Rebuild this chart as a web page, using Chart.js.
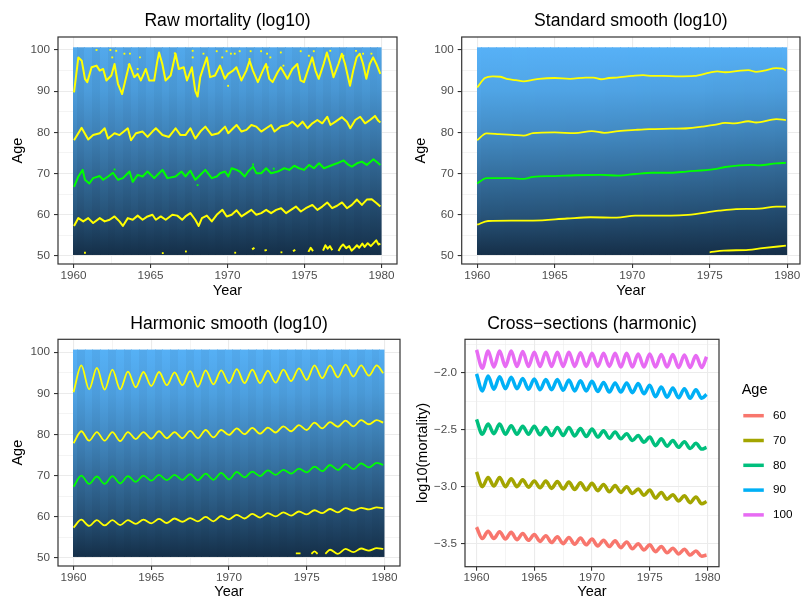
<!DOCTYPE html>
<html>
<head>
<meta charset="utf-8">
<script src="https://cdn.jsdelivr.net/npm/chart.js@4.4.1/dist/chart.umd.min.js"></script>
<style>
  body { margin: 0; background: #fff; width: 802px; height: 601px; overflow: hidden; position: relative; }
  canvas { position: absolute; }
</style>
</head>
<body>
<canvas id="raw" width="401" height="300" style="left:0;top:0"></canvas>
<canvas id="smooth" width="420" height="300" style="left:401px;top:0"></canvas>
<canvas id="harm" width="401" height="301" style="left:0;top:300px"></canvas>
<canvas id="cross" width="401" height="301" style="left:401px;top:300px"></canvas>
<script>
const FONT = '"Liberation Sans", Arial, Helvetica, sans-serif';

// axis ticks (majors get labels, the rest are minor grid lines)
const yearTicks = [1960, 1962.5, 1965, 1967.5, 1970, 1972.5, 1975, 1977.5, 1980];
const ageTicks = [50, 55, 60, 65, 70, 75, 80, 85, 90, 95, 100];
const logTicks = [-3.5, -3.25, -3.0, -2.75, -2.5, -2.25, -2.0, -1.75];

// harmonic fit, sampled at the winter peaks and summer troughs
const harmYears = [1960, 1960.5, 1961, 1961.5, 1962, 1962.5, 1963, 1963.5, 1964, 1964.5,
  1965, 1965.5, 1966, 1966.5, 1967, 1967.5, 1968, 1968.5, 1969, 1969.5,
  1970, 1970.5, 1971, 1971.5, 1972, 1972.5, 1973, 1973.5, 1974, 1974.5,
  1975, 1975.5, 1976, 1976.5, 1977, 1977.5, 1978, 1978.5, 1979, 1979.5, 1979.92];

// cross-sections log10(mortality)
const ageGroups = ['60', '70', '80', '90', '100'];
const ageColors = ['#F8766D', '#A3A500', '#00BF7D', '#00B0F6', '#E76BF3'];
const cs60 = [-3.355,-3.455,-3.39,-3.455,-3.395,-3.46,-3.4,-3.465,-3.41,-3.47,-3.42,-3.48,-3.43,-3.49,-3.44,-3.5,-3.445,-3.505,-3.45,-3.51,-3.46,-3.52,-3.47,-3.525,-3.475,-3.535,-3.485,-3.545,-3.5,-3.555,-3.51,-3.57,-3.525,-3.58,-3.54,-3.59,-3.55,-3.6,-3.565,-3.61,-3.6];
const cs70 = [-2.87,-3.0,-2.92,-2.995,-2.92,-3.0,-2.93,-3.0,-2.94,-3.005,-2.95,-3.01,-2.95,-3.015,-2.955,-3.02,-2.96,-3.025,-2.965,-3.03,-2.97,-3.035,-2.98,-3.045,-2.99,-3.05,-3.0,-3.06,-3.02,-3.075,-3.03,-3.1,-3.05,-3.11,-3.07,-3.125,-3.08,-3.14,-3.09,-3.15,-3.13];
const cs80 = [-2.41,-2.54,-2.45,-2.535,-2.45,-2.54,-2.465,-2.54,-2.47,-2.54,-2.47,-2.545,-2.48,-2.55,-2.48,-2.55,-2.48,-2.555,-2.49,-2.56,-2.495,-2.565,-2.51,-2.575,-2.52,-2.58,-2.535,-2.595,-2.55,-2.61,-2.565,-2.64,-2.58,-2.645,-2.595,-2.655,-2.605,-2.665,-2.62,-2.67,-2.655];
const cs90 = [-2.01,-2.16,-2.03,-2.145,-2.035,-2.14,-2.04,-2.14,-2.05,-2.145,-2.055,-2.15,-2.06,-2.15,-2.06,-2.155,-2.065,-2.16,-2.07,-2.16,-2.075,-2.165,-2.085,-2.17,-2.09,-2.17,-2.09,-2.175,-2.095,-2.185,-2.11,-2.21,-2.125,-2.215,-2.135,-2.22,-2.14,-2.225,-2.15,-2.225,-2.19];
const cs100 = [-1.80,-1.96,-1.81,-1.95,-1.81,-1.945,-1.81,-1.945,-1.815,-1.945,-1.82,-1.945,-1.82,-1.945,-1.82,-1.945,-1.82,-1.945,-1.825,-1.945,-1.83,-1.945,-1.83,-1.945,-1.83,-1.95,-1.83,-1.95,-1.835,-1.95,-1.835,-1.95,-1.84,-1.95,-1.84,-1.955,-1.845,-1.955,-1.85,-1.955,-1.86];
const age50Level = -4.05;

// harmonic contour lines (age where the surface crosses each level)
const harm90 = [90.3,96.8,91.0,96.2,90.9,95.8,91.0,95.3,91.5,95.2,91.8,95.2,92.0,95.1,92.0,95.4,91.6,95.6,92.2,95.6,92.5,95.9,92.5,95.8,92.5,95.5,92.6,95.8,93.0,96.1,93.3,96.8,93.7,96.8,93.9,97.0,94.1,96.8,94.3,96.8,94.9];
const harm80 = [77.9,80.8,78.5,80.6,78.5,80.6,78.4,80.6,78.9,80.6,79.0,80.8,79.1,80.6,79.1,80.9,79.1,81.1,79.3,81.1,79.9,81.5,80.1,81.6,80.2,81.7,80.5,82.0,80.8,82.3,81.1,82.9,81.5,83.0,81.9,83.4,82.0,83.5,82.5,83.5,82.9];
const harm70 = [67.3,70.0,68.0,69.8,68.0,69.9,68.1,69.9,68.5,70.0,68.8,70.2,68.9,70.2,69.0,70.4,68.9,70.5,69.0,70.7,69.1,70.9,69.6,71.0,69.9,71.3,70.2,71.4,70.5,71.7,70.8,72.2,71.1,72.6,71.4,72.8,71.6,73.0,72.0,73.1,72.6];
const harm60 = [57.4,59.3,57.8,59.2,57.9,59.2,58.0,59.2,58.3,59.3,58.4,59.5,58.5,59.6,58.8,59.7,58.9,60.0,58.9,60.2,59.4,60.5,59.6,60.7,59.8,60.9,60.1,61.1,60.3,61.3,60.6,61.6,60.9,61.9,61.1,62.1,61.5,62.2,61.8,62.3,62.1];
const harm50Years = [1974.3, 1974.6, 1974.9, 1975.3, 1975.5, 1975.7, 1975.9, 1976.2, 1976.5, 1977.0, 1977.5, 1978.0, 1978.5, 1979.0, 1979.5, 1979.92];
const harm50 = [51.1, 51.1, null, 51.0, 51.6, 51.0, null, 51.0, 52.0, 51.0, 52.2, 51.4, 52.3, 51.8, 52.4, 52.2];

// standard smooth contour lines
const smooth90Years = [1960, 1960.5, 1961, 1961.5, 1962, 1962.5, 1963, 1963.5, 1964, 1965, 1966, 1967, 1967.5, 1968, 1968.5, 1969, 1970, 1970.7, 1971.3, 1972, 1973, 1974, 1975, 1975.5, 1976, 1977, 1977.5, 1978, 1978.5, 1979.3, 1979.7, 1979.92];
const smooth90 = [90.9, 93.2, 93.6, 93.5, 92.9, 92.7, 92.4, 92.7, 93.0, 93.2, 93.0, 93.3, 93.3, 92.9, 93.2, 93.3, 93.7, 93.9, 93.7, 93.7, 93.6, 93.7, 94.5, 94.8, 94.6, 95.0, 95.1, 94.7, 95.0, 95.6, 95.5, 95.0];
const smooth80Years = [1960, 1960.6, 1961.4, 1962.3, 1963, 1963.6, 1965, 1966.3, 1967.4, 1968.2, 1969.1, 1970.2, 1971.1, 1972.5, 1973.6, 1974.5, 1975.3, 1976, 1976.6, 1977.5, 1978, 1979.3, 1979.92];
const smooth80 = [78.1, 79.75, 79.6, 79.4, 79.2, 79.8, 80.0, 79.8, 80.3, 79.9, 80.3, 80.6, 80.8, 80.9, 81.0, 81.4, 81.8, 82.3, 82.2, 82.7, 82.4, 83.2, 83.0];
const smooth70Years = [1960, 1960.6, 1962.2, 1963, 1963.6, 1965, 1966.3, 1968, 1969.1, 1970.2, 1971.3, 1972.5, 1973.5, 1975.3, 1976, 1977.7, 1978.2, 1979.3, 1979.92];
const smooth70 = [67.6, 68.9, 68.9, 68.7, 69.2, 69.4, 69.6, 69.7, 69.5, 69.9, 70.2, 70.2, 70.5, 71.1, 71.6, 72.1, 72.0, 72.5, 72.6];
const smooth60Years = [1960, 1960.7, 1962.2, 1963.6, 1965.8, 1967.3, 1969, 1970.2, 1972.5, 1973.6, 1975.6, 1976.7, 1978.2, 1979.3, 1979.92];
const smooth60 = [57.6, 58.5, 58.6, 58.6, 59.1, 59.4, 59.3, 59.8, 59.8, 60.0, 61.0, 61.4, 61.5, 62.0, 62.0];
const smooth50Years = [1975.0, 1975.9, 1977.5, 1978.4, 1979.92];
const smooth50 = [50.9, 51.3, 51.5, 51.9, 52.5];

// raw contour lines
const raw90Years = [1960.04,1960.32,1960.54,1960.75,1960.9,1961.18,1961.5,1961.71,1961.93,1962.14,1962.46,1962.67,1962.89,1963.16,1963.42,1963.63,1963.95,1964.17,1964.38,1964.7,1964.92,1965.24,1965.45,1965.56,1965.77,1965.98,1966.31,1966.63,1966.84,1967.16,1967.37,1967.69,1967.91,1968.06,1968.23,1968.44,1968.66,1968.87,1969.19,1969.51,1969.83,1970.04,1970.36,1970.58,1970.9,1971.22,1971.43,1971.65,1971.97,1972.29,1972.5,1972.71,1972.93,1973.25,1973.46,1973.89,1974.21,1974.53,1974.74,1974.96,1975.28,1975.5,1975.71,1975.92,1976.24,1976.45,1976.67,1976.88,1977.2,1977.42,1977.63,1977.95,1978.16,1978.38,1978.59,1978.8,1979.01,1979.23,1979.45,1979.66,1979.92];
const raw90 = [89.7,98.2,97.4,93.0,92.2,95.8,96.2,95.0,95.4,92.6,93.8,96.6,91.8,89.3,93.4,96.6,93.4,94.2,92.6,95.4,92.6,92.6,97.4,99.4,96.6,92.6,93.8,99.1,95.4,95.8,92.6,95.8,90.1,88.7,93.4,95.8,98.2,93.4,93.8,96.2,93.0,94.2,95.0,95.8,92.6,95.0,97.4,95.0,92.2,95.0,96.6,93.0,92.2,94.6,95.8,93.0,95.4,96.6,92.6,92.2,95.8,98.2,95.0,93.0,96.6,99.4,96.6,93.4,96.6,99.1,96.6,91.3,95.0,98.2,99.1,96.6,93.0,96.6,98.2,96.6,94.2];
const raw80Years = [1960.04,1960.53,1960.96,1961.28,1961.71,1962.03,1962.25,1962.67,1962.99,1963.53,1963.74,1964.06,1964.49,1964.81,1965.13,1965.35,1965.78,1966.2,1966.63,1966.95,1967.27,1967.59,1967.91,1968.24,1968.56,1968.98,1969.41,1969.84,1970.05,1970.37,1970.59,1970.91,1971.23,1971.55,1971.87,1972.19,1972.51,1972.83,1973.05,1973.48,1973.9,1974.22,1974.55,1974.87,1975.19,1975.51,1975.83,1976.15,1976.47,1976.68,1977.01,1977.43,1977.75,1977.97,1978.29,1978.61,1978.93,1979.25,1979.57,1979.79,1979.92];
const raw80 = [78.1,81.1,78.3,79.35,79.8,81.0,78.5,79.8,79.35,81.0,78.1,79.8,80.2,78.9,80.2,81.0,79.35,78.9,81.0,79.35,79.35,81.0,78.5,80.2,81.4,79.35,79.8,81.4,79.8,81.0,81.8,80.2,80.6,81.8,81.4,80.2,81.0,81.8,80.2,81.5,81.8,82.6,81.4,82.6,81.0,82.2,83.0,82.2,83.8,81.8,82.6,83.7,82.6,81.0,83.0,83.8,82.2,83.0,84.0,82.8,82.4];
const raw70Years = [1960.04,1960.32,1960.6,1960.75,1961.03,1961.28,1961.71,1961.93,1962.25,1962.57,1962.89,1963.21,1963.64,1963.85,1964.17,1964.49,1964.81,1965.24,1965.56,1965.78,1966.1,1966.63,1967.02,1967.27,1967.59,1967.91,1968.13,1968.34,1968.56,1968.98,1969.3,1969.52,1969.84,1970.05,1970.27,1970.59,1970.8,1971.12,1971.34,1971.66,1971.87,1972.19,1972.51,1972.83,1973.26,1973.69,1974.01,1974.33,1974.65,1974.97,1975.29,1975.61,1975.94,1976.26,1976.68,1977.11,1977.54,1977.86,1978.07,1978.4,1978.72,1979.04,1979.47,1979.79,1979.92];
const raw70 = [66.8,69.3,70.9,68.5,67.6,68.9,69.4,68.5,69.3,70.2,68.5,68.9,70.5,68.0,69.7,69.3,70.5,68.9,70.1,70.9,68.9,69.3,70.5,69.3,70.7,68.5,69.3,70.1,70.9,68.9,69.3,70.1,70.5,69.3,71.3,70.9,70.5,69.3,70.5,71.7,70.1,70.1,71.3,70.1,70.5,71.3,70.9,71.9,71.3,70.9,72.1,71.3,72.5,71.3,71.9,72.5,73.2,72.1,71.7,72.5,72.9,72.1,73.5,72.5,72.1];
const raw60Years = [1960.04,1960.32,1960.64,1960.96,1961.28,1961.71,1962.03,1962.35,1962.67,1962.99,1963.21,1963.53,1963.85,1964.17,1964.49,1964.81,1965.13,1965.35,1965.67,1965.99,1966.42,1966.74,1967.06,1967.27,1967.59,1967.91,1968.13,1968.34,1968.66,1968.98,1969.3,1969.67,1969.95,1970.27,1970.59,1970.91,1971.23,1971.55,1971.87,1972.19,1972.51,1972.83,1973.16,1973.48,1973.8,1974.12,1974.44,1974.76,1975.08,1975.51,1975.83,1976.15,1976.47,1976.79,1977.11,1977.43,1977.75,1978.07,1978.4,1978.72,1979.04,1979.36,1979.68,1979.92];
const raw60 = [57.3,59.2,58.4,59.2,58.0,59.2,58.4,58.8,59.6,58.4,57.3,59.2,58.8,59.8,58.8,59.6,60.0,58.8,59.6,58.8,60.0,59.8,58.8,59.6,60.4,58.8,57.3,59.2,59.8,58.4,60.0,61.2,59.6,60.0,61.1,59.6,60.4,61.2,60.0,60.4,61.2,60.4,61.2,61.6,60.4,61.2,62.0,60.8,61.6,62.4,61.2,62.0,63.0,61.6,62.2,63.0,61.6,62.4,63.7,62.4,63.7,63.8,62.8,62.0];
const raw50Years = [1971.6,1971.75,1971.8,1972.4,1972.55,1972.6,1974.25,1974.4,1974.5,1975.25,1975.4,1975.55,1975.6,1976.2,1976.35,1976.5,1976.65,1976.8,1976.9,1977.2,1977.35,1977.5,1977.7,1977.9,1978.05,1978.2,1978.4,1978.55,1978.75,1978.9,1979.1,1979.3,1979.5,1979.65,1979.8,1979.92];
const raw50 = [51.6,52.0,null,51.3,51.5,null,51.2,51.5,null,51.0,52.0,51.2,null,51.3,52.6,51.8,52.4,51.4,null,51.2,52.2,52.8,51.9,52.4,51.3,51.8,52.6,52.0,53.0,52.2,53.1,52.4,53.2,53.8,52.8,53.0];
const rawSpeckYears = [1961.5,1962.4,1962.78,1962.52,1963.31,1963.67,1964.32,1963.59,1964.17,1966.58,1967.74,1967.74,1968.44,1969.3,1969.66,1969.94,1970.22,1970.47,1970.79,1971.5,1971.43,1972.18,1972.57,1972.78,1973.46,1973.63,1974.75,1975.28,1975.6,1976.67,1977.52,1978.34,1978.8,1979.34,1970.04,1972.61,1960.75,1965.8,1967.3,1970.5,1973.5];
const rawSpecks = [100.0,100.0,99.8,98.2,99.1,99.1,98.2,96.4,95.4,99.2,99.8,98.2,99.1,99.7,98.2,99.7,99.1,99.1,99.7,99.7,97.8,99.7,99.1,98.2,99.4,96.2,99.7,98.6,99.7,99.8,98.6,99.8,99.1,99.1,91.3,95.8,50.8,50.7,51.1,50.8,50.9];
const rawGreenSpeckYears = [1968.06, 1962.67, 1971.66, 1973.0];
const rawGreenSpecks = [67.2, 71.0, 72.2, 71.2];

const heatAges = [50, 60, 70, 80, 90, 100];
const YELLOW = '#FFFF00', GREEN = '#00FF00';

function xy(xs, ys) {
  return xs.map((x, i) => ({ x: x, y: ys[i] }));
}

function contour(xs, ys, color, width, smooth) {
  return {
    data: xy(xs, ys),
    borderColor: color,
    borderWidth: width,
    pointRadius: 0,
    fill: false,
    tension: 0,
    cubicInterpolationMode: smooth ? 'monotone' : 'default',
    borderJoinStyle: 'round'
  };
}

function specks(xs, ys, color) {
  return {
    type: 'scatter',
    data: xy(xs, ys),
    pointStyle: 'rect',
    pointRadius: 1.3,
    pointBorderWidth: 0,
    pointBackgroundColor: color
  };
}

// colour scale of ggplot's default continuous fill
function heatColor(v, vmin, vmax) {
  let t = (v - vmin) / (vmax - vmin);
  t = Math.max(0, Math.min(1, t));
  const lo = [19, 43, 67], hi = [86, 177, 247];
  const c = lo.map((l, k) => Math.round(l + (hi[k] - l) * t));
  return 'rgb(' + c.join(',') + ')';
}

function harmColumn(i) {
  return [age50Level, cs60[i], cs70[i], cs80[i], cs90[i], cs100[i]];
}

function smoothed(arr, i) {
  const a = arr[Math.max(0, i - 1)], c = arr[Math.min(arr.length - 1, i + 1)];
  return 0.25 * a + 0.5 * arr[i] + 0.25 * c;
}

function smoothColumn(i) {
  return [age50Level, smoothed(cs60, i), smoothed(cs70, i), smoothed(cs80, i), smoothed(cs90, i), smoothed(cs100, i)];
}

function heatPlugin(columnFn, vmin, vmax) {
  return {
    id: 'heat',
    beforeDatasetsDraw(chart) {
      const { ctx, scales: { x, y } } = chart;
      const top = y.getPixelForValue(100.65), bottom = y.getPixelForValue(50.25);
      const g0 = y.getPixelForValue(50), g1 = y.getPixelForValue(100);
      ctx.save();
      harmYears.forEach((t, i) => {
        const a = i === 0 ? 1960 : (harmYears[i - 1] + t) / 2;
        const b = i === harmYears.length - 1 ? 1980 : (t + harmYears[i + 1]) / 2;
        const xa = Math.floor(x.getPixelForValue(a));
        const xb = i === harmYears.length - 1 ? x.getPixelForValue(b) : Math.ceil(x.getPixelForValue(b));
        const grad = ctx.createLinearGradient(0, g0, 0, g1);
        columnFn(i).forEach((v, k) => grad.addColorStop((heatAges[k] - 50) / 50, heatColor(v, vmin, vmax)));
        ctx.fillStyle = grad;
        ctx.fillRect(xa, top, xb - xa, bottom - top);
      });
      ctx.restore();
    }
  };
}

const borderPlugin = {
  id: 'panelBorder',
  afterDraw(chart) {
    const { ctx, chartArea: a } = chart;
    ctx.save();
    ctx.strokeStyle = '#333333';
    ctx.lineWidth = 1.2;
    ctx.strokeRect(a.left, a.top, a.right - a.left, a.bottom - a.top);
    ctx.restore();
  }
};

const legendPlugin = {
  id: 'ageLegend',
  afterDraw(chart) {
    const { ctx, chartArea: a } = chart;
    const x0 = a.right + 24.3;
    const mid = (a.top + a.bottom) / 2;
    ctx.save();
    ctx.textBaseline = 'middle';
    ctx.textAlign = 'left';
    ctx.fillStyle = '#000';
    ctx.font = '14.5px ' + FONT;
    ctx.fillText('Age', x0 - 1.6, mid - 62.6);
    ctx.font = '11.7px ' + FONT;
    chart.data.datasets.forEach((ds, i) => {
      const yy = mid - 37.3 + i * 24.8;
      ctx.strokeStyle = ds.borderColor;
      ctx.lineWidth = 3.5;
      ctx.beginPath();
      ctx.moveTo(x0, yy);
      ctx.lineTo(x0 + 20.5, yy);
      ctx.stroke();
      ctx.fillText(ds.label, x0 + 29.7, yy);
    });
    ctx.restore();
  }
};

function axis(o) {
  return {
    type: 'linear',
    min: o.min,
    max: o.max,
    afterBuildTicks: s => { s.ticks = o.ticks.map(v => ({ value: v })); },
    afterFit: s => { if (o.width !== undefined) s.width = o.width; if (o.height !== undefined) s.height = o.height; },
    border: { display: false },
    grid: {
      color: '#EBEBEB',
      lineWidth: c => (c.tick && o.major(c.tick.value)) ? 1.1 : 0.55,
      drawTicks: true,
      tickLength: 4,
      tickWidth: 1.1,
      tickColor: c => (c.tick && o.major(c.tick.value)) ? '#333333' : 'rgba(0,0,0,0)'
    },
    ticks: {
      autoSkip: false,
      maxRotation: 0,
      minRotation: 0,
      padding: o.pad,
      color: '#4D4D4D',
      font: { family: FONT, size: 11.7 },
      callback: v => o.major(v) ? o.fmt(v) : ''
    },
    title: {
      display: true,
      text: o.title,
      color: '#000',
      font: { family: FONT, size: 14.5 },
      padding: o.titlePad
    }
  };
}

const majorYear = v => Math.abs(v % 5) < 1e-6;
const majorAge = v => Math.abs(v % 10) < 1e-6;
const majorLog = v => Math.abs(v * 2 - Math.round(v * 2)) < 1e-6;

function makePanel(id, p) {
  return new Chart(document.getElementById(id), {
    type: 'line',
    data: { datasets: p.datasets },
    options: {
      responsive: false,
      animation: false,
      devicePixelRatio: 1,
      layout: { padding: { left: 0, top: 0, right: p.padRight, bottom: 0 } },
      plugins: {
        legend: { display: false },
        tooltip: { enabled: false },
        title: {
          display: true,
          text: p.title,
          fullSize: false,
          color: '#000',
          font: { family: FONT, size: 17.6, weight: 'normal' },
          padding: { top: p.titleTop, bottom: p.titleBottom }
        }
      },
      scales: {
        x: axis({ min: p.xMin, max: p.xMax, ticks: yearTicks, major: majorYear, fmt: v => String(v),
          height: p.bottomH, pad: p.xPad, title: 'Year', titlePad: { top: 0, bottom: 0 } }),
        y: axis({ min: p.yMin, max: p.yMax, ticks: p.yTicks, major: p.yMajor, fmt: p.yFmt,
          width: p.leftW, pad: 4, title: p.yTitle, titlePad: { top: p.yTitlePad, bottom: 0 } })
      }
    },
    plugins: p.plugins
  });
}

const ageFmt = v => String(v);

makePanel('raw', {
  title: 'Raw mortality (log10)', yTitle: 'Age',
  xMin: 1959, xMax: 1981, yMin: 48.06, yMax: 103.15, yTicks: ageTicks, yMajor: majorAge, yFmt: ageFmt,
  leftW: 58, bottomH: 36, padRight: 1, titleTop: 10.64, titleBottom: 5.24, yTitlePad: 8.9, xPad: 1,
  datasets: [
    contour(raw50Years, raw50, YELLOW, 2, false),
    contour(raw60Years, raw60, YELLOW, 2, false),
    contour(raw70Years, raw70, GREEN, 2, false),
    contour(raw80Years, raw80, YELLOW, 2, false),
    contour(raw90Years, raw90, YELLOW, 2, false),
    specks(rawSpeckYears, rawSpecks, YELLOW),
    specks(rawGreenSpeckYears, rawGreenSpecks, GREEN)
  ],
  plugins: [heatPlugin(harmColumn, -4.1, -1.65), borderPlugin]
});

makePanel('smooth', {
  title: 'Standard smooth (log10)', yTitle: 'Age',
  xMin: 1959, xMax: 1980.83, yMin: 48.06, yMax: 103.15, yTicks: ageTicks, yMajor: majorAge, yFmt: ageFmt,
  leftW: 60.7, bottomH: 36, padRight: 21, titleTop: 10.64, titleBottom: 5.24, yTitlePad: 11.3, xPad: 1,
  datasets: [
    contour(smooth50Years, smooth50, YELLOW, 1.8, true),
    contour(smooth60Years, smooth60, YELLOW, 1.8, true),
    contour(smooth70Years, smooth70, GREEN, 1.8, true),
    contour(smooth80Years, smooth80, YELLOW, 1.8, true),
    contour(smooth90Years, smooth90, YELLOW, 1.8, true)
  ],
  plugins: [heatPlugin(smoothColumn, -4.1, -1.87), borderPlugin]
});

makePanel('harm', {
  title: 'Harmonic smooth (log10)', yTitle: 'Age',
  xMin: 1959, xMax: 1981, yMin: 48.05, yMax: 103.15, yTicks: ageTicks, yMajor: majorAge, yFmt: ageFmt,
  leftW: 58, bottomH: 35, padRight: 1, titleTop: 13.24, titleBottom: 4.94, yTitlePad: 8.9, xPad: 1,
  datasets: [
    contour(harm50Years, harm50, YELLOW, 1.8, true),
    contour(harmYears, harm60, YELLOW, 1.8, true),
    contour(harmYears, harm70, GREEN, 1.8, true),
    contour(harmYears, harm80, YELLOW, 1.8, true),
    contour(harmYears, harm90, YELLOW, 1.8, true)
  ],
  plugins: [heatPlugin(harmColumn, -4.1, -1.79), borderPlugin]
});

const crossSeries = [cs60, cs70, cs80, cs90, cs100];
makePanel('cross', {
  title: 'Cross\u2212sections (harmonic)', yTitle: 'log10(mortality)',
  xMin: 1959, xMax: 1981, yMin: -3.702, yMax: -1.707, yTicks: logTicks, yMajor: majorLog,
  yFmt: v => v.toFixed(1).replace('-', '\u2212'),
  leftW: 64, bottomH: 34.3, padRight: 83, titleTop: 13.24, titleBottom: 4.94, yTitlePad: 13.1, xPad: 0,
  datasets: crossSeries.map((s, i) => ({
    label: ageGroups[i],
    data: xy(harmYears, s),
    borderColor: ageColors[i],
    borderWidth: 3.5,
    pointRadius: 0,
    fill: false,
    cubicInterpolationMode: 'monotone'
  })),
  plugins: [borderPlugin, legendPlugin]
});
</script>
</body>
</html>
